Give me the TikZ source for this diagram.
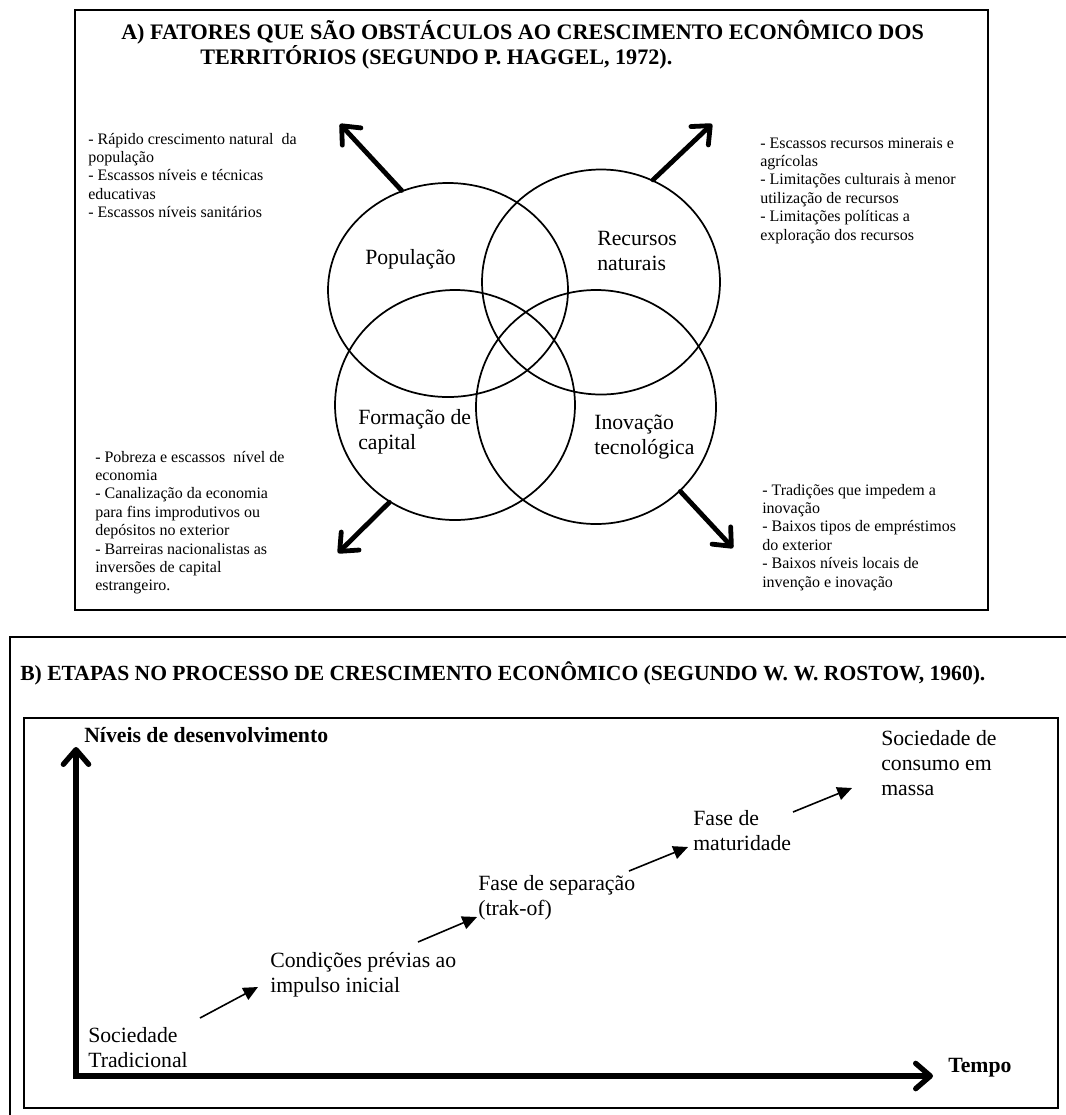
\documentclass[tikz,border=0pt]{standalone}
\usepackage{fontspec}
\setmainfont{Liberation Serif}
\usetikzlibrary{arrows.meta,shapes.geometric}
\tikzset{
  side/.style={anchor=base west, align=left, inner sep=0pt, font=\fontsize{12}{13.8}\selectfont},
  lbl/.style={anchor=base west, align=left, inner sep=0pt, font=\fontsize{16.3}{18.75}\selectfont},
  ttl/.style={anchor=base west, inner sep=0pt, font=\fontsize{16.6}{19}\selectfont\bfseries},
  venn/.style={draw, ellipse, inner sep=0pt, line width=1.3pt},
  bigarrow/.style={line width=3.6pt, line cap=round, -{Straight Barb[length=11pt,width=19pt,round]}},
  axisline/.style={line width=4pt, line cap=round, line join=miter, {Straight Barb[length=11pt,width=19pt,round]}-{Straight Barb[length=11pt,width=19pt,round]}},
  steparrow/.style={line width=1.2pt, -{Triangle[length=11pt,width=10pt]}},
  frame/.style={line width=1.8pt}
}
\begin{document}
\begin{tikzpicture}[x=0.75pt,y=-0.75pt]
\fill[white] (0,0) rectangle (1066,1115);
\useasboundingbox (0,0) rectangle (1066,1115);

% ---------- Part A ----------
\draw[frame] (75,10) rectangle (988,610);
\node[ttl] (tA1) at (121,39) {A) FATORES QUE SÃO OBSTÁCULOS AO CRESCIMENTO ECONÔMICO DOS};
\node[ttl] (tA2) at (200,64) {TERRITÓRIOS (SEGUNDO P. HAGGEL, 1972).};

\node[venn, minimum width=180pt, minimum height=160.5pt] (pop) at (448,290) {};
\node[venn, minimum width=178.5pt, minimum height=168.75pt] (rec) at (601,282) {};
\node[venn, minimum width=180pt, minimum height=172.5pt] (form) at (455,405) {};
\node[venn, minimum width=180pt, minimum height=175.5pt] (inov) at (596,407) {};

% base anchor of a multi-line node = baseline of its last line
\node[lbl] (lpop) at (365,264) {População};
\node[lbl] (lrec) at (597,270) {Recursos\\naturais};
\node[lbl] (lform) at (358,449) {Formação de\\capital};
\node[lbl] (linov) at (594,454) {Inovação\\tecnológica};

\node[side] (sTL) at (88,217.6) {- Rápido crescimento natural\ \ da\\população\\- Escassos níveis e técnicas\\educativas\\- Escassos níveis sanitários};
\node[side] (sTR) at (760,240) {- Escassos recursos minerais e\\agrícolas\\- Limitações culturais à menor\\utilização de recursos\\- Limitações políticas a\\exploração dos recursos};
\node[side] (sBL) at (95,590.8) {- Pobreza e escassos\ \ nível de\\economia\\- Canalização da economia\\para fins improdutivos ou\\depósitos no exterior\\- Barreiras nacionalistas as\\inversões de capital\\estrangeiro.};
\node[side] (sBR) at (762,587) {- Tradições que impedem a\\inovação\\- Baixos tipos de empréstimos\\do exterior\\- Baixos níveis locais de\\invenção e inovação};

\coordinate (tipTL) at (340,124);
\coordinate (tipTR) at (712,124);
\coordinate (tipBL) at (338,553);
\coordinate (tipBR) at (733,548);
\draw[bigarrow] (pop.115) -- (tipTL);
\draw[bigarrow] (rec.63) -- (tipTR);
\draw[bigarrow] (form.236) -- (tipBL);
\draw[bigarrow] (inov.315) -- (tipBR);

% ---------- Part B ----------
\draw[frame] (10,1125) -- (10,637) -- (1080,637);
\node[ttl, font=\fontsize{16.2}{19}\selectfont\bfseries] (tB) at (20,680) {B) ETAPAS NO PROCESSO DE CRESCIMENTO ECONÔMICO (SEGUNDO W. W. ROSTOW, 1960).};
\draw[line width=1.5pt] (24,718) rectangle (1058,1108);

\coordinate (orig) at (76,1076);
\coordinate (ytip) at (76,747);
\coordinate (xtip) at (933,1076);
\draw[axisline] (ytip) -- (orig) -- (xtip);
\node[ttl, font=\fontsize{16.3}{19}\selectfont\bfseries] (ylab) at (84,742) {Níveis de desenvolvimento};
\node[ttl, font=\fontsize{16.3}{19}\selectfont\bfseries] (xlab) at (948,1072) {Tempo};

\node[lbl] (st1) at (88,1067) {Sociedade\\Tradicional};
\node[lbl] (st2) at (270,992) {Condições prévias ao\\impulso inicial};
\node[lbl] (st3) at (478,915) {Fase de separação\\(trak-of)};
\node[lbl] (st4) at (693,850) {Fase de\\maturidade};
\node[lbl] (st5) at (881,795) {Sociedade de\\consumo em\\massa};

\coordinate (a1s) at (200,1018); \coordinate (a1e) at (258,987);
\coordinate (a2s) at (418,942);  \coordinate (a2e) at (477,917);
\coordinate (a3s) at (629,871);  \coordinate (a3e) at (688,847);
\coordinate (a4s) at (793,812);  \coordinate (a4e) at (852,788);
\draw[steparrow] (a1s) -- (a1e);
\draw[steparrow] (a2s) -- (a2e);
\draw[steparrow] (a3s) -- (a3e);
\draw[steparrow] (a4s) -- (a4e);
\end{tikzpicture}
\end{document}
